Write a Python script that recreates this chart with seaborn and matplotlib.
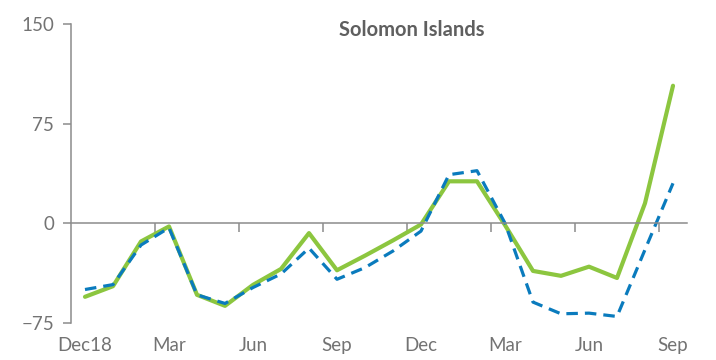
import matplotlib
matplotlib.use("Agg")
import matplotlib.pyplot as plt
import seaborn as sns
import pandas as pd
import numpy as np

# Monthly index values, Dec 2018 - Sep 2020
months = ["Dec18", "Jan", "Feb", "Mar", "Apr", "May", "Jun", "Jul", "Aug", "Sep", "Oct", "Nov",
          "Dec", "Jan", "Feb", "Mar", "Apr", "May", "Jun", "Jul", "Aug", "Sep"]
green_values = [-55.5, -47.5, -13.8, -2.5, -54.0, -62.3, -46.5, -34.5, -7.5, -35.5, -24.5, -13.0,
                -1.0, 31.5, 31.5, -1.5, -36.0, -39.7, -32.8, -41.3, 15.0, 103.5]
blue_values = [-50.0, -46.3, -16.5, -3.5, -54.0, -60.5, -48.5, -38.3, -18.8, -42.3, -33.5, -21.0,
               -6.0, 36.5, 39.5, 0.0, -59.5, -68.3, -67.8, -70.3, -20.0, 30.0]
label_months = ["Dec18", "Mar", "Jun", "Sep", "Dec", "Mar", "Jun", "Sep"]
y_ticks = [-75, 0, 75, 150]
title = "Solomon Islands"

GREEN = "#8cc63f"
BLUE = "#0a7bbd"
AXIS = "#8c8c8c"
TEXT = "#737373"

sns.set_theme(style="white")
plt.rcParams["font.family"] = ["Lato", "DejaVu Sans"]

df = pd.DataFrame({"pos": np.arange(len(months)), "green": green_values, "blue": blue_values})

fig = plt.figure(figsize=(7.16, 3.6), dpi=100)
ax = fig.add_axes([71 / 716, 1 - 322.7 / 360, (687 - 71) / 716, (322.7 - 24) / 360])

sns.lineplot(data=df, x="pos", y="blue", ax=ax, color=BLUE, linewidth=2.3,
             dashes=False, solid_capstyle="butt")
ax.lines[-1].set_dashes([3.6, 2.2])
sns.lineplot(data=df, x="pos", y="green", ax=ax, color=GREEN, linewidth=3.0)
ax.lines[-1].set_zorder(1)

ax.set_xlim(-0.5, len(months) - 0.5)
ax.set_ylim(-75, 150)
ax.set_xlabel("")
ax.set_ylabel("")

# Axis lines
for s in ["top", "right"]:
    ax.spines[s].set_visible(False)
ax.spines["left"].set_color(AXIS)
ax.spines["left"].set_linewidth(1.1)
ax.spines["bottom"].set_position(("data", 0))
ax.spines["bottom"].set_color(AXIS)
ax.spines["bottom"].set_linewidth(1.1)

ax.set_yticks(y_ticks)
ax.set_yticklabels([str(v) if v >= 0 else "\u2212" + str(-v) for v in y_ticks])
ax.tick_params(axis="y", direction="out", length=6, width=1.1, color=AXIS,
               labelsize=13.5, labelcolor=TEXT, pad=6, left=True)

# Category boundary ticks on the zero line
label_pos = [i for i, m in enumerate(months) if i % 3 == 0]
ax.set_xticks([p - 0.5 for p in label_pos[1:]])
ax.set_xticklabels([])
ax.tick_params(axis="x", direction="out", length=6.5, width=1.1, color=AXIS, bottom=True)

# Month labels along the bottom of the plot
sec = ax.secondary_xaxis(0)
sec.set_xticks(label_pos)
sec.set_xticklabels(label_months)
sec.tick_params(axis="x", length=0, labelsize=13.5, labelcolor=TEXT, pad=10)
sec.spines["bottom"].set_visible(False)

fig.text(412 / 716, 1 - 30 / 360, title, ha="center", va="center",
         fontsize=14.5, fontweight="bold", color="#5f5f5f")

fig.savefig("out.png", dpi=100)
